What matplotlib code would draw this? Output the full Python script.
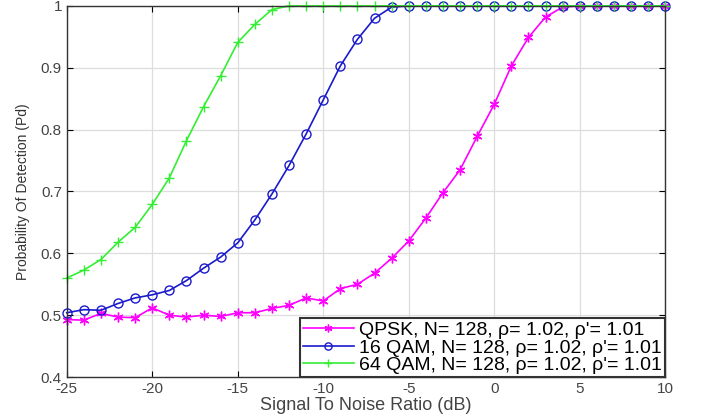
import numpy as np
import matplotlib
matplotlib.use("Agg")
import matplotlib.pyplot as plt

plt.rcParams['font.family'] = ['Liberation Sans', 'DejaVu Sans']
plt.rcParams['axes.unicode_minus'] = False

snr = list(range(-25, 11))
qpsk = [0.493, 0.492, 0.503, 0.497, 0.496, 0.512, 0.500, 0.497, 0.500, 0.498,
        0.504, 0.504, 0.511, 0.516, 0.528, 0.523, 0.543, 0.550, 0.568, 0.592,
        0.620, 0.657, 0.698, 0.735, 0.789, 0.841, 0.903, 0.949, 0.982, 0.998,
        1.0, 1.0, 1.0, 1.0, 1.0, 1.0]
qam16 = [0.504, 0.509, 0.508, 0.519, 0.528, 0.533, 0.540, 0.556, 0.576, 0.594,
         0.617, 0.654, 0.696, 0.742, 0.793, 0.848, 0.903, 0.946, 0.980, 0.998,
         1.0, 1.0, 1.0, 1.0, 1.0, 1.0, 1.0, 1.0, 1.0, 1.0,
         1.0, 1.0, 1.0, 1.0, 1.0, 1.0]
qam64 = [0.560, 0.573, 0.590, 0.618, 0.642, 0.679, 0.722, 0.782, 0.837, 0.887,
         0.941, 0.970, 0.994, 1.0, 1.0, 1.0, 1.0, 1.0, 1.0, 1.0,
         1.0, 1.0, 1.0, 1.0, 1.0, 1.0, 1.0, 1.0, 1.0, 1.0,
         1.0, 1.0, 1.0, 1.0, 1.0, 1.0]
labels = ["QPSK, N= 128, \u03c1= 1.02, \u03c1'= 1.01",
          "16 QAM, N= 128, \u03c1= 1.02, \u03c1'= 1.01",
          "64 QAM, N= 128, \u03c1= 1.02, \u03c1'= 1.01"]
xticks = [-25, -20, -15, -10, -5, 0, 5, 10]
yticks = [0.4, 0.5, 0.6, 0.7, 0.8, 0.9, 1.0]
yticklabels = ['0.4', '0.5', '0.6', '0.7', '0.8', '0.9', '1']

fig = plt.figure(figsize=(7.1, 4.19), dpi=100)
ax = fig.add_axes([0.094, 0.100, 0.843, 0.886])

ax.plot(snr, qpsk, color='#ff00ff', marker=(6, 2, 0), markersize=7, lw=1.2,
        label=labels[0], clip_on=False)
ax.plot(snr, qam16, color='#1a1acc', marker='o', markersize=6.5, mfc='none',
        lw=1.2, label=labels[1], clip_on=False)
ax.plot(snr, qam64, color='#33ee33', marker='+', markersize=7, lw=1.2,
        label=labels[2], clip_on=False)

ax.set_xlim(-25, 10)
ax.set_ylim(0.4, 1.0)
ax.set_xticks(xticks)
ax.set_yticks(yticks)
ax.set_yticklabels(yticklabels)
ax.grid(True, color='#dddddd', lw=0.9)
ax.tick_params(direction='in', top=True, right=True, labelsize=11,
               labelcolor='#444444', length=4)
for s in ax.spines.values():
    s.set_color('#333333')
    s.set_linewidth(1.0)

ax.set_xlabel('Signal To Noise Ratio (dB)', fontsize=13, color='#444444',
              labelpad=1)
ax.set_ylabel('Probability Of Detection (Pd)', fontsize=10, color='#333333',
              labelpad=8)

leg = ax.legend(loc='lower right', fontsize=14, fancybox=False,
                framealpha=1, edgecolor='#333333', borderpad=0.15,
                labelspacing=0.0, handlelength=2.6, handletextpad=0.3,
                borderaxespad=0.0, markerscale=0.8)
leg.get_frame().set_linewidth(1.5)

fig.savefig('out.png', dpi=100)
